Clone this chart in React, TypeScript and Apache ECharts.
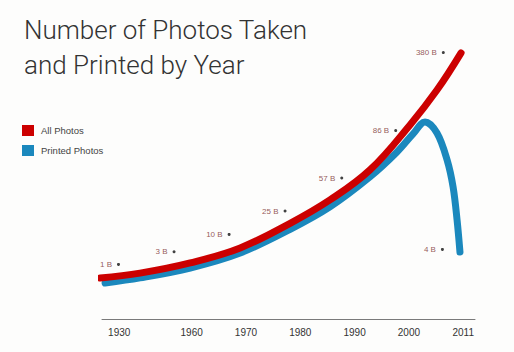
import React, { useEffect, useRef } from "react";
import * as echarts from "echarts";

// Axis tick labels and their slot positions on the (non-linear) time axis
const tickYears = ["1930", "1960", "1970", "1980", "1990", "2000", "2011"];
const tickSlots = [0, 4, 7, 10, 13, 16, 19];

// Curve shapes: [slot, relative height]
const allPhotos: [number, number][] = [
  [-1.05, 13.7], [1.15, 15.3], [3.92, 18.7], [6.68, 23.7], [9.44, 31.9],
  [11.64, 39.7], [13.85, 49.7], [16.06, 64.7], [17.55, 76.3], [18.88, 88.7],
];
const printedPhotos: [number, number][] = [
  [-0.78, 12.0], [1.15, 13.7], [3.92, 17.0], [6.68, 22.0], [9.44, 29.9],
  [11.64, 37.4], [13.85, 47.4], [15.33, 55.6], [16.23, 61.7], [16.89, 65.7],
  [17.55, 62.0], [18.11, 53.0], [18.44, 44.0], [18.66, 33.0], [18.82, 22.3],
];

// Annotations
const noteLabels = ["1 B", "3 B", "10 B", "25 B", "57 B", "86 B", "380 B", "4 B"];
const noteX = [-0.04, 3.03, 6.07, 9.16, 12.29, 15.27, 17.9, 17.85];
const noteY = [18.2, 22.4, 28.2, 36.0, 47.0, 62.8, 88.8, 23.2];

const RED = "#cc0000";
const BLUE = "#1b88bd";

export default function App() {
  const ref = useRef<HTMLDivElement>(null);
  useEffect(() => {
    if (!ref.current) return;
    const chart = echarts.init(ref.current, null, { renderer: "svg" });
    chart.setOption({
      animation: false,
      backgroundColor: "#fdfdfc",
      title: {
        text: "Number of Photos Taken\nand Printed by Year",
        left: 19,
        top: 7,
        textStyle: {
          fontFamily: "Roboto",
          fontWeight: 300,
          fontSize: 26,
          lineHeight: 35,
          color: "#333333",
        },
      },
      legend: {
        orient: "vertical",
        left: 22,
        top: 125,
        padding: 0,
        itemWidth: 12,
        itemHeight: 11,
        itemGap: 9,
        icon: "rect",
        data: ["All Photos", "Printed Photos"],
        textStyle: { fontFamily: "Liberation Sans", fontSize: 9.5, color: "#444444", padding: [0, 0, 0, 2] },
      },
      grid: { left: 102, right: 39, top: 19, bottom: 33 },
      xAxis: {
        type: "value",
        min: -0.95,
        max: 19.65,
        splitLine: { show: false },
        axisTick: { show: false },
        axisLine: { lineStyle: { color: "#7a7a7a", width: 1 } },
        axisLabel: {
          customValues: tickSlots,
          formatter: (v: number) => {
            const i = tickSlots.indexOf(Math.round(v));
            return i >= 0 ? tickYears[i] : "";
          },
          margin: 8,
          fontFamily: "Liberation Sans",
          fontSize: 10,
          color: "#333333",
        },
      },
      yAxis: {
        type: "value",
        min: 0,
        max: 100,
        show: false,
      },
      series: [
        {
          name: "All Photos",
          type: "line",
          data: allPhotos,
          smooth: 0.4,
          showSymbol: false,
          symbol: "none",
          clip: false,
          color: RED,
          lineStyle: { color: RED, width: 7, cap: "round" },
          z: 3,
        },
        {
          name: "Printed Photos",
          type: "line",
          data: printedPhotos,
          smooth: 0.35,
          showSymbol: false,
          symbol: "none",
          clip: false,
          color: BLUE,
          lineStyle: { color: BLUE, width: 7, cap: "round" },
          z: 2,
        },
        {
          type: "scatter",
          data: noteX.map((x, i) => ({ value: [x, noteY[i]], name: noteLabels[i] })),
          symbolSize: 3,
          itemStyle: { color: "#111111" },
          clip: false,
          label: {
            show: true,
            position: "left",
            distance: 5,
            formatter: (p: any) => p.name,
            fontFamily: "Liberation Sans",
            fontSize: 8,
            color: "#7a2e2e",
          },
          z: 4,
        },
      ],
    });
    return () => chart.dispose();
  }, []);
  return <div ref={ref} style={{ position: "fixed", left: 0, top: 0, width: 514, height: 352 }} />;
}
